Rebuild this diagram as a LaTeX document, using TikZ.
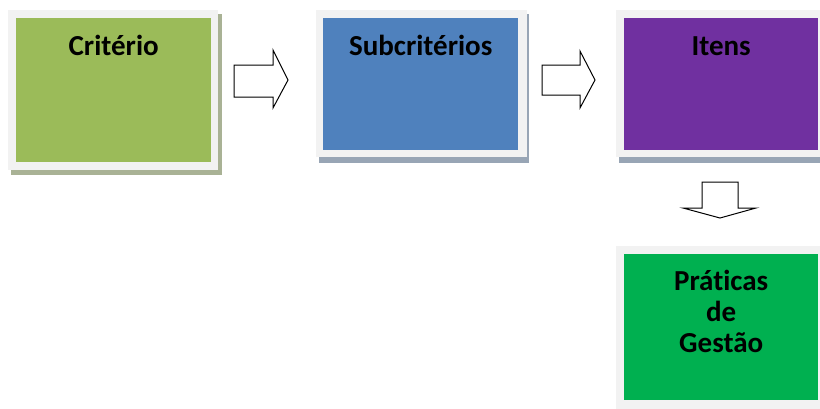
\documentclass[tikz,border=0pt]{standalone}
\usepackage{fontspec}
\setmainfont{Carlito}[Ligatures=NoCommon]
\begin{document}
\begin{tikzpicture}[x=1pt,y=-1pt,
  frame/.style={fill=frameGray, draw=none, inner sep=0pt, anchor=north west},
  panel/.style={draw=none, inner sep=0pt, anchor=north west},
  title/.style={font=\bfseries\fontsize{29}{31}\selectfont, align=center, anchor=base, inner sep=0pt},
  blockarrow/.style={draw=black, fill=white, line width=1pt, line join=miter}]
\definecolor{frameGray}{HTML}{F2F2F2}
\definecolor{critGreen}{HTML}{9BBB59}
\definecolor{subBlue}{HTML}{4F81BD}
\definecolor{itemPurple}{HTML}{7030A0}
\definecolor{pracGreen}{HTML}{00B050}
\definecolor{shadowGreen}{HTML}{A9B295}
\definecolor{shadowBlue}{HTML}{98A5B5}
\useasboundingbox (0,0) rectangle (820,408);
\clip (0,0) rectangle (820,408);

% drop shadows under the framed panels
\fill[shadowGreen] (11,14) rectangle (222,175);
\fill[shadowBlue] (319,14) rectangle (529,163);
\fill[shadowBlue] (619,14) rectangle (830,163);

% Critério
\node[frame, minimum width=210pt, minimum height=160pt] (f1) at (8,10) {};
\node[panel, fill=critGreen, minimum width=195pt, minimum height=144pt] (b1) at (16,18) {};
\node[title] (t1) at ([yshift=-37pt]b1.north) {Critério};

% Subcritérios
\node[frame, minimum width=211pt, minimum height=147pt] (f2) at (316,10) {};
\node[panel, fill=subBlue, minimum width=195pt, minimum height=132pt] (b2) at (323,18) {};
\node[title] (t2) at ([yshift=-37pt]b2.north) {Subcritérios};

% Itens
\node[frame, minimum width=212pt, minimum height=147pt] (f3) at (616,10) {};
\node[panel, fill=itemPurple, minimum width=194pt, minimum height=132pt] (b3) at (624,18) {};
\node[title] (t3) at ([yshift=-37pt]b3.north) {Itens};

% Práticas de Gestão (base anchor sits on the last line)
\node[frame, minimum width=212pt, minimum height=165pt] (f4) at (616,246) {};
\node[panel, fill=pracGreen, minimum width=194pt, minimum height=146pt] (b4) at (624,254) {};
\node[title] (t4) at ([yshift=-98pt]b4.north) {Práticas\\de\\Gestão};

% block arrows between the panels
\draw[blockarrow] (234,65) -- (273,65) -- (273,50) -- (288,80) -- (273,108)
  -- (273,97) -- (234,97) -- cycle;
\draw[blockarrow] (542,65) -- (580,65) -- (580,51) -- (595,80) -- (580,108)
  -- (580,95) -- (542,95) -- cycle;
\draw[blockarrow] (702,182) -- (738,182) -- (738,208) -- (756,208) -- (720,218)
  -- (683,208) -- (702,208) -- cycle;
\end{tikzpicture}
\end{document}
